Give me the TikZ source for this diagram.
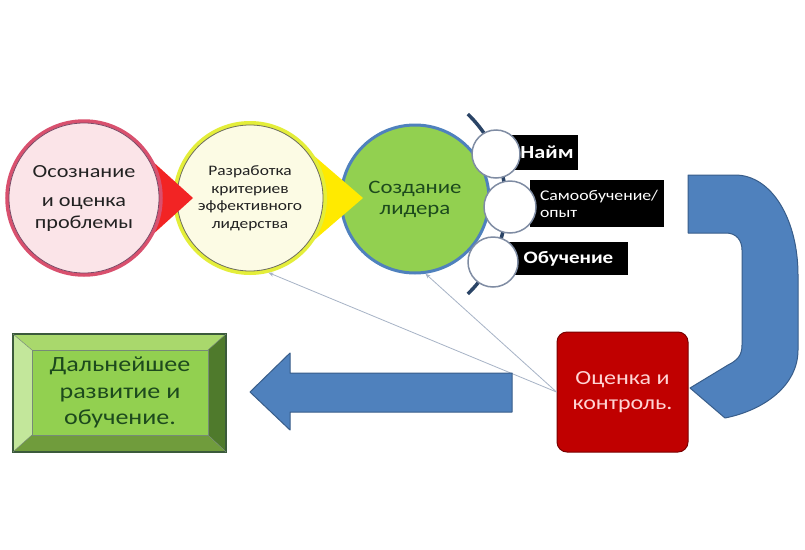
\documentclass[tikz,border=0pt]{standalone}
\usepackage{fontspec}
\setmainfont{Carlito}[FakeStretch=1.2]
\usetikzlibrary{arrows.meta}
\definecolor{pinkfill}{HTML}{FBE4E8}
\definecolor{pinkborder}{HTML}{D9506E}
\definecolor{pinkinner}{HTML}{7A4A66}
\definecolor{redtri}{HTML}{F22424}
\definecolor{creamfill}{HTML}{FCFBE4}
\definecolor{yellowb}{HTML}{E4EE3A}
\definecolor{yellowtri}{HTML}{FFEA00}
\definecolor{grayinner}{HTML}{6E6E60}
\definecolor{grnfill}{HTML}{92D050}
\definecolor{grnborder}{HTML}{4F81BD}
\definecolor{dkgreen}{HTML}{1D4A1D}
\definecolor{circgray}{HTML}{7F8CA3}
\definecolor{arcblue}{HTML}{2A4466}
\definecolor{bluefill}{HTML}{4F81BD}
\definecolor{blueborder}{HTML}{385D8A}
\definecolor{redbox}{HTML}{C00000}
\definecolor{redboxborder}{HTML}{7A0000}
\definecolor{redtext}{HTML}{FFD4D4}
\definecolor{linegray}{HTML}{A7B3C6}
\definecolor{bevtop}{HTML}{A9D86C}
\definecolor{bevleft}{HTML}{C3E79B}
\definecolor{bevright}{HTML}{4F7A2C}
\definecolor{bevbot}{HTML}{709C3C}
\definecolor{bevborder}{HTML}{3B5A3B}
\definecolor{textdark}{HTML}{222222}
\begin{document}
\begin{tikzpicture}[x=1pt,y=-1pt,
  bigcirc/.style={circle, inner sep=0pt, align=center, line width=3pt},
  smallcirc/.style={circle, draw=circgray, fill=white, line width=1.5pt, inner sep=0pt},
  blackbox/.style={fill=black, text=white, inner sep=0pt, align=left},
  conn/.style={draw=linegray, line width=0.8pt, -{Stealth[length=5pt,width=4pt]}},
  bluearrow/.style={fill=bluefill, draw=blueborder, line width=1pt, line join=round}]
\useasboundingbox (0,0) rectangle (805,549);
\fill[white] (0,0) rectangle (805,549);

% --- green circle (Создание лидера)
\node[bigcirc, draw=grnborder, fill=grnfill, minimum size=148pt, text=dkgreen,
  font=\fontsize{19}{21}\selectfont] (c3) at (415,199) {Создание\\лидера};
% yellow pointer
\fill[yellowtri] (305,148) -- (363,198) -- (305,248) -- cycle;
% --- circle 2
\node[bigcirc, draw=yellowb, fill=creamfill, line width=4pt, minimum size=150pt, text=textdark,
  font=\fontsize{14.5}{17.5}\selectfont] (c2) at (250,198) {Разработка\\критериев\\эффективного\\лидерства};
\draw[grayinner, line width=0.8pt] (c2.center) circle[radius=73];
% red pointer
\fill[redtri] (140,150) -- (193,198) -- (140,246) -- cycle;
% --- circle 1
\node[bigcirc, draw=pinkborder, fill=pinkfill, line width=3.5pt, minimum size=154pt, text=textdark,
  font=\fontsize{18.5}{22}\selectfont] (c1) at (84,198) {Осознание\\[7pt]и оценка\\проблемы};
\draw[pinkinner, line width=0.8pt] (c1.center) circle[radius=75];

% --- arc behind the small circles
\draw[arcblue, line width=3.5pt] plot[domain=-46:46, samples=50] ({381+125*cos(\x)},{204-125*sin(\x)});

% --- black label boxes
\node[blackbox, minimum width=66pt, minimum height=35pt, font=\bfseries\fontsize{18.5}{21}\selectfont] (bA) at (545,152.5) {\hspace*{4pt}Найм};
\node[blackbox, minimum width=134pt, minimum height=47pt, text width=122pt, font=\fontsize{14.8}{17}\selectfont] (bB) at (597,203.5) {\hspace*{4pt}Самообучение/\\\hspace*{4pt}опыт};
\node[blackbox, minimum width=123pt, minimum height=33pt, font=\bfseries\fontsize{17.5}{21}\selectfont] (bC) at (566.5,258.5) {\hspace*{4pt}Обучение};

% --- small white circles
\node[smallcirc, minimum size=48pt] (sA) at (496,154) {};
\node[smallcirc, minimum size=52pt] (sB) at (510,207) {};
\node[smallcirc, minimum size=50pt] (sC) at (493,262) {};

% --- blue U-turn arrow
\path[bluearrow] (688,175) -- (735,175) .. controls (772,175) and (798,220) .. (798,275)
  -- (798,350) .. controls (798,385) and (765,410) .. (725,418) -- (690,388)
  -- (728,365) .. controls (738,360) and (742,355) .. (742,345)
  -- (742,250) .. controls (742,240) and (736,233) .. (726,233) -- (688,233) -- cycle;

% --- red box
\node[fill=redbox, draw=redboxborder, line width=1pt, rounded corners=10pt,
  minimum width=131pt, minimum height=120pt, text=redtext, align=center,
  font=\fontsize{20}{25}\selectfont] (rb) at (622.5,392) {Оценка и\\контроль.};

% --- thin connectors
\draw[conn] (rb.west) -- (c2.-76);
\draw[conn] (rb.west) -- (c3.-82);

% --- blue left arrow
\path[bluearrow] (250,392) -- (290,353) -- (290,373) -- (512,373) -- (512,412) -- (290,412) -- (290,430) -- cycle;

% --- green bevelled box
\fill[bevtop] (13,334) -- (226,334) -- (208,350) -- (32,350) -- cycle;
\fill[bevleft] (13,334) -- (32,350) -- (32,435) -- (13,452) -- cycle;
\fill[bevright] (226,334) -- (226,452) -- (208,435) -- (208,350) -- cycle;
\fill[bevbot] (13,452) -- (32,435) -- (208,435) -- (226,452) -- cycle;
\node[fill=grnfill, draw=bevborder!70, line width=0.6pt, minimum width=176pt, minimum height=85pt,
  inner sep=0pt, align=center, text=dkgreen, font=\fontsize{21.7}{26.5}\selectfont] (gb) at (120,392.5)
  {Дальнейшее\\развитие и\\обучение.};
\draw[bevborder, line width=1.2pt] (13,334) rectangle (226,452);
\draw[bevborder!70, line width=0.5pt] (13,334) -- (32,350) (226,334) -- (208,350) (13,452) -- (32,435) (226,452) -- (208,435);
\end{tikzpicture}
\end{document}
